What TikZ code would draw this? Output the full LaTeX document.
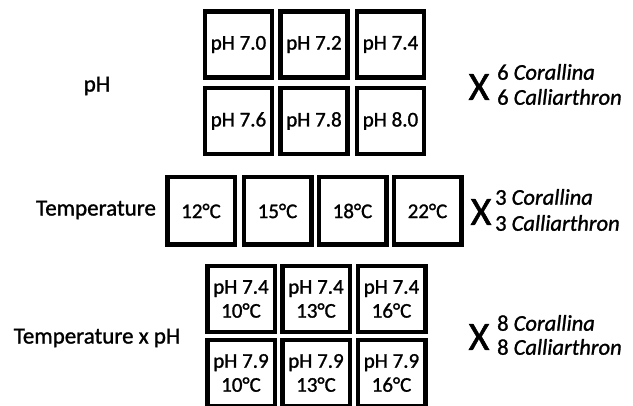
\documentclass[tikz,border=0pt]{standalone}
\usepackage{fontspec}
\setmainfont{Carlito}[FakeBold=1.2]
\begin{document}
\begin{tikzpicture}[x=1pt,y=-1pt,
  cell/.style={draw=black,line width=4.5pt,minimum width=67pt,minimum height=66pt,inner sep=0pt,font=\fontsize{21}{24}\selectfont,align=center},
  lbl/.style={font=\fontsize{23}{25}\selectfont},
  bigx/.style={font=\fontsize{40}{40}\selectfont},
  spec/.style={anchor=west,inner sep=0pt,font=\fontsize{22.5}{24}\selectfont}]
\useasboundingbox (0,0) rectangle (633,406);
% pH grid
\node[cell] (a1) at (238.5,44.5) {pH 7.0};
\node[cell] (a2) at (314,44.5) {pH 7.2};
\node[cell] (a3) at (390.5,44.5) {pH 7.4};
\node[cell] (a4) at (238.5,121) {pH 7.6};
\node[cell] (a5) at (314,121) {pH 7.8};
\node[cell] (a6) at (390.5,121) {pH 8.0};
\node[lbl] (la) at (97,86) {pH};
\node[bigx] (xa) at (479,87) {X};
\node[spec] (sa1) at (497,72) {6 \textit{Corallina}};
\node[spec] (sa2) at (497,97) {6 \textit{Calliarthron}};
% Temperature row
\node[cell,minimum width=67.5pt,minimum height=67.5pt] (b1) at (201,211) {12°C};
\node[cell,minimum width=67.5pt,minimum height=67.5pt] (b2) at (277.5,211) {15°C};
\node[cell,minimum width=67.5pt,minimum height=67.5pt] (b3) at (352.5,211) {18°C};
\node[cell,minimum width=67.5pt,minimum height=67.5pt] (b4) at (427.5,211) {22°C};
\node[lbl] (lb) at (96,210) {Temperature};
\node[bigx] (xb) at (481,212) {X};
\node[spec] (sb1) at (495,197) {3 \textit{Corallina}};
\node[spec] (sb2) at (495,223) {3 \textit{Calliarthron}};
% Temperature x pH grid
\node[cell,minimum width=67.5pt] (c1) at (241,299) {pH 7.4\\10°C};
\node[cell,minimum width=67.5pt] (c2) at (316,299) {pH 7.4\\13°C};
\node[cell,minimum width=67.5pt] (c3) at (391.5,299) {pH 7.4\\16°C};
\node[cell,minimum width=67.5pt] (c4) at (241,373) {pH 7.9\\10°C};
\node[cell,minimum width=67.5pt] (c5) at (316,373) {pH 7.9\\13°C};
\node[cell,minimum width=67.5pt] (c6) at (391.5,373) {pH 7.9\\16°C};
\node[lbl] (lc) at (97,338) {Temperature x pH};
\node[bigx] (xc) at (479,337) {X};
\node[spec] (sc1) at (497,323) {8 \textit{Corallina}};
\node[spec] (sc2) at (497,347) {8 \textit{Calliarthron}};
\end{tikzpicture}
\end{document}
